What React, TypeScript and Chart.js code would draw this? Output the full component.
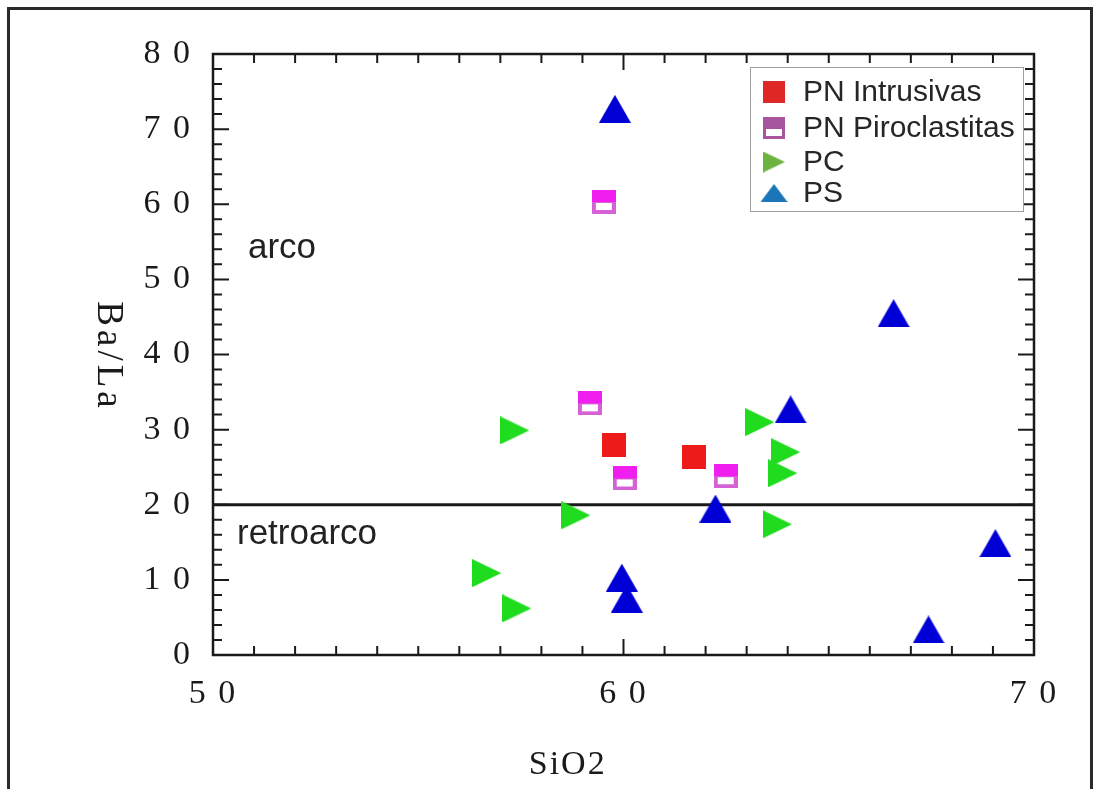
import React, { useEffect, useRef } from 'react';
import { Chart, registerables } from 'chart.js';

Chart.register(...registerables);

// ---------- data ----------
const seriesNames = ['PN Intrusivas', 'PN Piroclastitas', 'PC', 'PS'];

const pnIntrusivasSiO2 = [59.76, 61.71];
const pnIntrusivasBaLa = [27.9, 26.3];

const pnPiroclastitasSiO2 = [59.52, 59.18, 60.03, 62.49];
const pnPiroclastitasBaLa = [60.3, 33.5, 23.5, 23.8];

const pcSiO2 = [57.35, 58.84, 56.67, 57.4, 63.32, 63.95, 63.88, 63.75];
const pcBaLa = [29.9, 18.6, 10.9, 6.2, 31.0, 27.0, 24.2, 17.4];

const psSiO2 = [59.79, 66.58, 64.07, 62.24, 59.96, 60.08, 67.43, 69.06];
const psBaLa = [72.7, 45.5, 32.7, 19.5, 10.3, 7.5, 3.4, 14.9];

const boundarySiO2 = [50, 70];
const boundaryBaLa = [20, 20];

const xTickValues = [50, 60, 70];
const yTickValues = [0, 10, 20, 30, 40, 50, 60, 70, 80];

const xAxisTitle = 'SiO2';
const yAxisTitle = 'Ba/La';
const fieldLabels = ['arco', 'retroarco'];

// ---------- helpers ----------
const SERIF = '"Liberation Serif", "Times New Roman", serif';
const SANS = '"Liberation Sans", Arial, sans-serif';
const INK = '#1a1a1a';

function makeCanvas(w: number, h: number, draw: (g: CanvasRenderingContext2D) => void) {
  const c = document.createElement('canvas');
  c.width = w;
  c.height = h;
  const g = c.getContext('2d') as CanvasRenderingContext2D;
  draw(g);
  return c;
}

function squareMarker(size: number, color: string) {
  return makeCanvas(size, size, (g) => {
    g.fillStyle = color;
    g.fillRect(0, 0, size, size);
  });
}

function halfSquareMarker(size: number, top: string, border: string) {
  return makeCanvas(size, size, (g) => {
    g.fillStyle = border;
    g.fillRect(0, 0, size, size);
    g.fillStyle = top;
    g.fillRect(0, 0, size, Math.round(size * 0.5));
    g.fillStyle = '#ffffff';
    const b = Math.max(3, Math.round(size * 0.15));
    g.fillRect(b, Math.round(size * 0.55), size - 2 * b, Math.round(size * 0.3));
  });
}

function rightTriangle(w: number, h: number, color: string) {
  return makeCanvas(w, h, (g) => {
    g.fillStyle = color;
    g.beginPath();
    g.moveTo(0, 0);
    g.lineTo(w, h / 2);
    g.lineTo(0, h);
    g.closePath();
    g.fill();
  });
}

function upTriangle(w: number, h: number, color: string) {
  return makeCanvas(w, h, (g) => {
    g.fillStyle = color;
    g.beginPath();
    g.moveTo(w / 2, 0);
    g.lineTo(w, h);
    g.lineTo(0, h);
    g.closePath();
    g.fill();
  });
}

function toPoints(xs: number[], ys: number[]) {
  return xs.map((x, i) => ({ x, y: ys[i] }));
}

const spaced = (v: number) => String(v).split('').join(' ');

export default function App() {
  const canvasRef = useRef<HTMLCanvasElement | null>(null);

  useEffect(() => {
    const canvas = canvasRef.current;
    if (!canvas) return;

    const redMarker = squareMarker(24, '#ee1b1b');
    const magentaMarker = halfSquareMarker(24, '#f01ff0', '#d462d4');
    const greenMarker = rightTriangle(29, 28, '#1fdc1f');
    const blueMarker = upTriangle(32, 28, '#0000d6');

    const legendMarkers = [
      squareMarker(22, '#e02727'),
      halfSquareMarker(22, '#a8559f', '#a8559f'),
      rightTriangle(22, 21, '#6db33f'),
      upTriangle(27, 18, '#1b75b8'),
    ];

    const decorPlugin = {
      id: 'decor',
      beforeDraw(chart: any) {
        try {
          (chart.ctx as any).letterSpacing = '2px';
        } catch (e) {}
      },
      beforeDatasetsDraw(chart: any) {
        const { ctx, chartArea } = chart;
        const xs = chart.scales.x;
        const ys = chart.scales.y;
        const { left, right, top, bottom } = chartArea;
        ctx.save();
        ctx.strokeStyle = INK;
        ctx.lineWidth = 2;
        for (let v = 0; v <= 80; v += 2) {
          const py = ys.getPixelForValue(v);
          const len = v % 10 === 0 ? 16 : 9;
          ctx.beginPath();
          ctx.moveTo(left, py);
          ctx.lineTo(left + len, py);
          ctx.moveTo(right, py);
          ctx.lineTo(right - len, py);
          ctx.stroke();
        }
        for (let v = 50; v <= 70; v += 1) {
          const px = xs.getPixelForValue(v);
          const len = v % 10 === 0 ? 16 : 9;
          ctx.beginPath();
          ctx.moveTo(px, bottom);
          ctx.lineTo(px, bottom - len);
          ctx.moveTo(px, top);
          ctx.lineTo(px, top + len);
          ctx.stroke();
        }
        ctx.lineWidth = 2.5;
        ctx.strokeRect(left, top, right - left, bottom - top);
        ctx.restore();
      },
      afterDraw(chart: any) {
        const { ctx, chartArea } = chart;
        const { left, right, top, bottom } = chartArea;
        const w = right - left;
        const h = bottom - top;
        ctx.save();

        ctx.fillStyle = INK;
        ctx.textAlign = 'center';
        ctx.textBaseline = 'middle';
        try { (ctx as any).letterSpacing = '2px'; } catch (e) {}
        ctx.font = `34px ${SERIF}`;
        ctx.fillText(xAxisTitle, left + w * 0.432, bottom + 110);
        ctx.save();
        ctx.translate(108, top + h / 2 + 2);
        ctx.rotate(Math.PI / 2);
        try { (ctx as any).letterSpacing = '4px'; } catch (e) {}
        ctx.font = `37px ${SERIF}`;
        ctx.fillText(yAxisTitle, 0, 0);
        ctx.restore();

        try { (ctx as any).letterSpacing = '0px'; } catch (e) {}

        ctx.textAlign = 'left';
        ctx.font = `35px ${SANS}`;
        ctx.fillStyle = '#222222';
        ctx.fillText(fieldLabels[0], left + 35, top + 194);
        ctx.fillText(fieldLabels[1], left + 24, top + 480);

        const lx = 750, ly = 67, lw = 273, lh = 144;
        ctx.fillStyle = '#ffffff';
        ctx.fillRect(lx, ly, lw, lh);
        ctx.strokeStyle = '#a0a0a0';
        ctx.lineWidth = 1;
        ctx.strokeRect(lx + 0.5, ly + 0.5, lw, lh);
        const rows = [92, 128, 162, 193];
        ctx.font = `30px ${SANS}`;
        ctx.fillStyle = '#262626';
        seriesNames.forEach((name, i) => {
          const m = legendMarkers[i];
          ctx.drawImage(m, 774 - m.width / 2, rows[i] - m.height / 2);
          ctx.fillText(name, 803, rows[i] + 1);
        });
        ctx.restore();
      },
    };

    const chart = new Chart(canvas, {
      type: 'scatter',
      data: {
        datasets: [
          {
            label: seriesNames[0],
            data: toPoints(pnIntrusivasSiO2, pnIntrusivasBaLa),
            pointStyle: redMarker as any,
            pointRadius: 12,
          },
          {
            label: seriesNames[1],
            data: toPoints(pnPiroclastitasSiO2, pnPiroclastitasBaLa),
            pointStyle: magentaMarker as any,
            pointRadius: 12,
          },
          {
            label: seriesNames[2],
            data: toPoints(pcSiO2, pcBaLa),
            pointStyle: greenMarker as any,
            pointRadius: 14,
          },
          {
            label: seriesNames[3],
            data: toPoints(psSiO2, psBaLa),
            pointStyle: blueMarker as any,
            pointRadius: 14,
          },
          {
            type: 'line' as any,
            label: 'limit',
            data: toPoints(boundarySiO2, boundaryBaLa),
            borderColor: INK,
            borderWidth: 3,
            pointRadius: 0,
            showLine: true,
            fill: false,
          } as any,
        ],
      },
      options: {
        animation: false,
        responsive: false,
        devicePixelRatio: 1,
        events: [],
        layout: { padding: { left: 0, right: 66, top: 54, bottom: 0 } },
        plugins: {
          legend: { display: false },
          tooltip: { enabled: false },
          title: { display: false },
        },
        scales: {
          x: {
            type: 'linear',
            min: 50,
            max: 70,
            afterFit: (s: any) => { s.height = 134; },
            afterBuildTicks: (s: any) => { s.ticks = xTickValues.map((v) => ({ value: v })); },
            grid: { display: false, drawTicks: false, tickLength: 0 },
            border: { display: false },
            ticks: {
              padding: 19,
              maxRotation: 0,
              autoSkip: false,
              color: INK,
              font: { family: SERIF, size: 34 },
              callback: (v: any) => spaced(v),
            },
          },
          y: {
            type: 'linear',
            min: 0,
            max: 80,
            afterFit: (s: any) => { s.width = 213; },
            afterBuildTicks: (s: any) => { s.ticks = yTickValues.map((v) => ({ value: v })); },
            grid: { display: false, drawTicks: false, tickLength: 0 },
            border: { display: false },
            ticks: {
              padding: 21,
              autoSkip: false,
              color: INK,
              font: { family: SERIF, size: 34 },
              callback: (v: any) => spaced(v),
            },
          },
        },
      },
      plugins: [decorPlugin],
    });

    return () => chart.destroy();
  }, []);

  return (
    <>
      <div
        style={{
          position: 'fixed',
          left: 7,
          top: 7,
          width: 1080,
          height: 800,
          borderTop: '3px solid #2a2a2a',
          borderLeft: '3px solid #2a2a2a',
          borderRight: '3px solid #2a2a2a',
          boxSizing: 'content-box',
          background: '#ffffff',
        }}
      />
      <canvas
        ref={canvasRef}
        width={1100}
        height={789}
        style={{ position: 'fixed', left: 0, top: 0, width: 1100, height: 789, display: 'block' }}
      />
    </>
  );
}
